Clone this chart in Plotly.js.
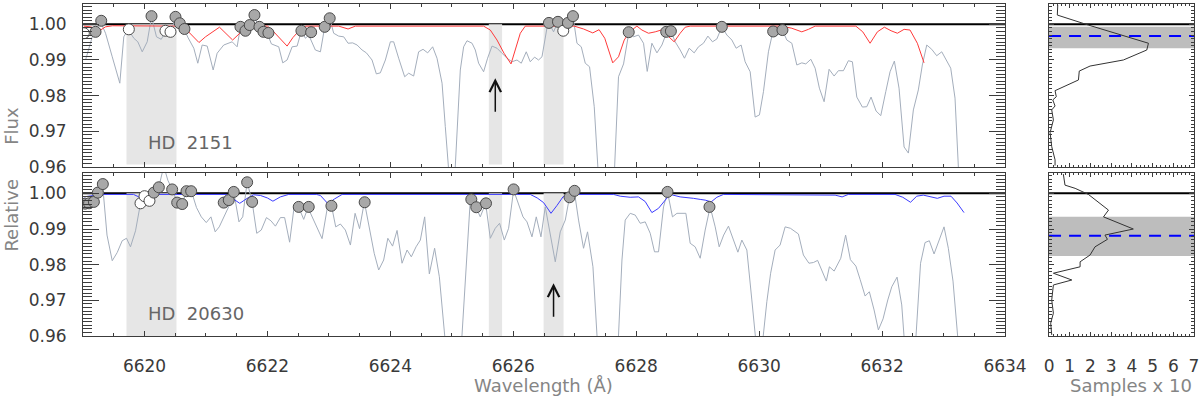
<!DOCTYPE html>
<html>
<head>
<meta charset="utf-8">
<script src="https://cdn.plot.ly/plotly-3.0.1.min.js"></script>
<style>
  html, body { margin: 0; padding: 0; background: #ffffff; }
  #chart, #axes { position: absolute; left: 0; top: 0; width: 1200px; height: 397px; }
</style>
</head>
<body>
<div id="chart"></div>
<div id="axes"></div>
<script>
// ---- HD 2151 (upper panel) ----
const wlTop = [6619.041, 6619.150, 6619.285, 6619.366, 6619.475, 6619.598, 6619.663, 6619.735, 6619.826, 6619.891,
  6619.963, 6620.044, 6620.114, 6620.195, 6620.272, 6620.341, 6620.423, 6620.504, 6620.574, 6620.650,
  6620.704, 6620.802, 6620.867, 6620.938, 6621.020, 6621.117, 6621.182, 6621.289, 6621.426, 6621.507,
  6621.561, 6621.642, 6621.712, 6621.777, 6621.859, 6621.930, 6621.995, 6622.065, 6622.184, 6622.249,
  6622.320, 6622.402, 6622.483, 6622.553, 6622.618, 6622.672, 6622.780, 6622.862, 6622.932, 6623.013,
  6623.078, 6623.159, 6623.241, 6623.312, 6623.387, 6623.459, 6623.540, 6623.610, 6623.702, 6623.772,
  6623.837, 6623.919, 6624.000, 6624.054, 6624.135, 6624.233, 6624.298, 6624.379, 6624.460, 6624.532,
  6624.607, 6624.688, 6624.759, 6624.841, 6624.894, 6625.011, 6625.138, 6625.192, 6625.247, 6625.329,
  6625.382, 6625.436, 6625.517, 6625.582, 6625.654, 6625.735, 6625.816, 6625.898, 6625.979, 6626.060,
  6626.130, 6626.211, 6626.276, 6626.346, 6626.411, 6626.467, 6626.548, 6626.580, 6626.655, 6626.727,
  6626.808, 6626.889, 6626.971, 6627.036, 6627.106, 6627.171, 6627.241, 6627.317, 6627.447, 6627.594,
  6627.712, 6627.794, 6627.881, 6627.956, 6628.037, 6628.119, 6628.179, 6628.255, 6628.337, 6628.418,
  6628.499, 6628.564, 6628.634, 6628.715, 6628.785, 6628.862, 6628.943, 6629.013, 6629.094, 6629.166,
  6629.241, 6629.312, 6629.393, 6629.475, 6629.556, 6629.626, 6629.707, 6629.772, 6629.854, 6629.935,
  6630.005, 6630.070, 6630.151, 6630.223, 6630.304, 6630.379, 6630.450, 6630.532, 6630.613, 6630.694,
  6630.759, 6630.841, 6630.911, 6630.980, 6631.057, 6631.138, 6631.220, 6631.289, 6631.371, 6631.452,
  6631.517, 6631.589, 6631.680, 6631.751, 6631.821, 6631.902, 6631.979, 6632.060, 6632.130, 6632.200,
  6632.276, 6632.358, 6632.428, 6632.509, 6632.590, 6632.655, 6632.727, 6632.808, 6632.889, 6632.971,
  6633.041, 6633.117, 6633.187, 6633.267];
const fluxTop = [0.9900, 0.9965, 1.0007, 0.9975, 0.9909, 0.9835, 0.9965, 0.9986, 0.9961, 0.9951,
  0.9923, 0.9951, 1.0021, 0.9965, 0.9958, 0.9979, 0.9976, 1.0020, 1.0003, 0.9986,
  0.9964, 0.9933, 0.9891, 0.9942, 0.9939, 0.9872, 0.9919, 0.9942, 0.9951, 0.9937,
  0.9993, 0.9979, 0.9998, 1.0026, 0.9993, 0.9979, 0.9975, 0.9945, 0.9937, 0.9892,
  0.9900, 0.9937, 0.9939, 0.9982, 0.9961, 0.9970, 0.9928, 0.9923, 0.9993, 1.0017,
  0.9975, 0.9967, 0.9965, 0.9947, 0.9948, 0.9942, 0.9928, 0.9920, 0.9900, 0.9861,
  0.9864, 0.9900, 0.9951, 0.9951, 0.9905, 0.9853, 0.9863, 0.9855, 0.9923, 0.9930,
  0.9920, 0.9937, 0.9905, 0.9835, 0.9713, 0.9452, 0.9872, 0.9937, 0.9954, 0.9947,
  0.9928, 0.9891, 0.9867, 0.9905, 0.9939, 0.9933, 0.9919, 0.9905, 0.9895, 0.9900,
  0.9891, 0.9923, 0.9895, 0.9908, 0.9900, 0.9909, 0.9990, 1.0004, 0.9979, 1.0007,
  0.9982, 1.0004, 1.0023, 0.9947, 0.9937, 0.9891, 0.9881, 0.9769, 0.9396, 0.9382,
  0.9853, 0.9889, 0.9978, 0.9965, 0.9970, 0.9947, 0.9868, 0.9947, 0.9920, 0.9942,
  0.9979, 0.9981, 0.9951, 0.9928, 0.9905, 0.9933, 0.9920, 0.9937, 0.9947, 0.9967,
  0.9951, 0.9959, 0.9993, 0.9970, 0.9956, 0.9933, 0.9942, 0.9895, 0.9867, 0.9740,
  0.9746, 0.9811, 0.9923, 0.9979, 0.9970, 0.9984, 0.9956, 0.9947, 0.9886, 0.9892,
  0.9889, 0.9902, 0.9877, 0.9821, 0.9783, 0.9874, 0.9855, 0.9870, 0.9870, 0.9898,
  0.9895, 0.9796, 0.9768, 0.9769, 0.9796, 0.9757, 0.9744, 0.9811, 0.9867, 0.9897,
  0.9821, 0.9656, 0.9639, 0.9760, 0.9816, 0.9886, 0.9942, 0.9930, 0.9912, 0.9923,
  0.9900, 0.9877, 0.9793, 0.9508];

const modelWlTop = [6619.013, 6619.122, 6619.285, 6619.366, 6619.480, 6620.532, 6620.694, 6620.886, 6620.992, 6621.073,
  6621.220, 6621.434, 6621.545, 6621.667, 6621.772, 6622.000, 6622.076, 6622.200, 6622.320, 6622.415,
  6622.520, 6622.626, 6623.159, 6623.312, 6623.431, 6625.517, 6625.626, 6625.735, 6625.849, 6625.963,
  6626.046, 6626.114, 6626.195, 6626.992, 6627.143, 6627.293, 6627.396, 6627.488, 6627.550, 6627.618,
  6627.712, 6627.805, 6627.894, 6627.956, 6628.011, 6628.093, 6628.200, 6628.309, 6628.407, 6628.499,
  6628.618, 6628.715, 6628.797, 6628.878, 6630.369, 6630.532, 6630.694, 6630.802, 6630.911, 6631.573,
  6631.686, 6631.805, 6631.924, 6632.037, 6632.146, 6632.249, 6632.358, 6632.455, 6632.574, 6632.683];
const modelTop = [0.9995, 0.9993, 0.9984, 0.9993, 0.9996, 0.9995, 0.9983, 0.9949, 0.9965, 0.9975,
  0.9992, 0.9956, 0.9975, 0.9994, 0.9996, 0.9995, 0.9984, 0.9960, 0.9939, 0.9963,
  0.9983, 0.9995, 0.9995, 0.9987, 0.9995, 0.9995, 0.9984, 0.9956, 0.9919, 0.9889,
  0.9934, 0.9975, 0.9995, 0.9995, 0.9987, 0.9976, 0.9985, 0.9961, 0.9928, 0.9892,
  0.9909, 0.9956, 0.9979, 0.9989, 0.9995, 0.9984, 0.9975, 0.9979, 0.9984, 0.9970,
  0.9951, 0.9975, 0.9992, 0.9995, 0.9995, 0.9989, 0.9979, 0.9986, 0.9995, 0.9995,
  0.9979, 0.9947, 0.9979, 0.9992, 0.9982, 0.9975, 0.9986, 0.9984, 0.9947, 0.9892];

const contWlTop = [6619.013, 6619.203, 6619.296, 6619.745, 6620.114, 6620.341, 6620.423, 6620.504, 6620.574, 6620.650,
  6621.561, 6621.642, 6621.712, 6621.789, 6621.870, 6621.935, 6622.016, 6622.553, 6622.711, 6622.932,
  6623.013, 6626.580, 6626.727, 6626.813, 6626.889, 6626.971, 6627.878, 6628.488, 6628.564, 6629.393,
  6630.228, 6630.379];
const contTop = [0.9975, 0.9979, 1.0010, 0.9986, 1.0023, 0.9982, 0.9979, 1.0021, 1.0003, 0.9987,
  0.9993, 0.9982, 0.9998, 1.0026, 0.9993, 0.9979, 0.9976, 0.9982, 0.9978, 0.9993,
  1.0017, 1.0004, 1.0007, 0.9982, 1.0004, 1.0023, 0.9978, 0.9979, 0.9981, 0.9993,
  0.9980, 0.9984];
const rejectedTop = [1, 0, 0, 1, 0, 1, 1, 0, 0, 0,
  0, 0, 0, 0, 0, 0, 0, 0, 0, 0,
  0, 0, 0, 1, 0, 0, 0, 0, 0, 0,
  0, 0];

// ---- HD 20630 (lower panel) ----
const wlBot = [6619.016, 6619.176, 6619.257, 6619.317, 6619.390, 6619.475, 6619.556, 6619.637, 6619.707, 6619.772,
  6619.854, 6619.935, 6620.016, 6620.081, 6620.151, 6620.233, 6620.314, 6620.379, 6620.450, 6620.532,
  6620.613, 6620.683, 6620.761, 6620.846, 6620.924, 6621.005, 6621.081, 6621.150, 6621.216, 6621.285,
  6621.371, 6621.452, 6621.537, 6621.598, 6621.670, 6621.751, 6621.826, 6621.899, 6621.984, 6622.057,
  6622.130, 6622.211, 6622.280, 6622.361, 6622.434, 6622.504, 6622.590, 6622.659, 6622.732, 6622.813,
  6622.889, 6622.971, 6623.041, 6623.111, 6623.187, 6623.268, 6623.350, 6623.426, 6623.499, 6623.577,
  6623.659, 6623.737, 6623.810, 6623.891, 6623.959, 6624.036, 6624.109, 6624.190, 6624.272, 6624.341,
  6624.418, 6624.488, 6624.558, 6624.634, 6624.720, 6624.797, 6625.052, 6625.301, 6625.390, 6625.463,
  6625.550, 6625.626, 6625.707, 6625.777, 6625.854, 6625.924, 6626.005, 6626.086, 6626.158, 6626.223,
  6626.304, 6626.374, 6626.450, 6626.520, 6626.602, 6626.683, 6626.764, 6626.846, 6626.915, 6626.992,
  6627.062, 6627.143, 6627.208, 6627.296, 6627.431, 6627.642, 6627.768, 6627.821, 6627.902, 6627.984,
  6628.065, 6628.146, 6628.228, 6628.298, 6628.363, 6628.444, 6628.509, 6628.590, 6628.662, 6628.740,
  6628.808, 6628.878, 6628.959, 6629.041, 6629.122, 6629.203, 6629.285, 6629.350, 6629.423, 6629.501,
  6629.582, 6629.654, 6629.719, 6629.800, 6629.881, 6630.000, 6630.125, 6630.187, 6630.260, 6630.341,
  6630.423, 6630.509, 6630.639, 6630.720, 6630.810, 6630.883, 6630.951, 6631.033, 6631.093, 6631.143,
  6631.220, 6631.328, 6631.407, 6631.485, 6631.574, 6631.642, 6631.724, 6631.793, 6631.870, 6631.940,
  6632.016, 6632.093, 6632.158, 6632.244, 6632.320, 6632.462, 6632.626, 6632.699, 6632.769, 6632.846,
  6632.927, 6633.008, 6633.078, 6633.154, 6633.276];
const fluxBot = [0.9972, 0.9981, 1.0004, 1.0027, 0.9883, 0.9811, 0.9834, 0.9867, 0.9874, 0.9850,
  0.9895, 0.9972, 0.9992, 0.9980, 1.0003, 1.0018, 1.0076, 1.0037, 1.0011, 0.9975,
  0.9970, 1.0006, 1.0007, 0.9960, 0.9934, 0.9918, 0.9934, 0.9892, 0.9906, 0.9930,
  0.9963, 1.0004, 0.9920, 0.9934, 1.0032, 0.9976, 0.9888, 0.9897, 0.9932, 0.9923,
  0.9908, 0.9932, 0.9932, 0.9863, 0.9962, 0.9963, 0.9927, 0.9960, 0.9931, 0.9900,
  0.9873, 0.9956, 0.9966, 0.9906, 0.9914, 0.9897, 0.9855, 0.9944, 0.9901, 0.9976,
  0.9900, 0.9832, 0.9785, 0.9813, 0.9874, 0.9852, 0.9896, 0.9804, 0.9841, 0.9822,
  0.9850, 0.9869, 0.9934, 0.9774, 0.9846, 0.9766, 0.9283, 0.9983, 0.9962, 0.9934,
  0.9972, 0.9874, 0.9902, 0.9916, 0.9869, 0.9902, 1.0009, 0.9972, 0.9934, 0.9920,
  0.9878, 0.9934, 0.9878, 0.9962, 0.9888, 0.9808, 0.9892, 0.9925, 0.9990, 1.0007,
  0.9925, 0.9846, 0.9892, 0.9794, 0.9399, 0.9340, 0.9813, 0.9925, 0.9944, 0.9939,
  0.9916, 0.9920, 0.9888, 0.9836, 0.9836, 0.9962, 1.0004, 0.9934, 0.9944, 0.9943,
  0.9944, 0.9860, 0.9850, 0.9818, 0.9897, 0.9962, 0.9906, 0.9850, 0.9883, 0.9908,
  0.9869, 0.9835, 0.9869, 0.9841, 0.9701, 0.9491, 0.9696, 0.9776, 0.9841, 0.9855,
  0.9906, 0.9902, 0.9886, 0.9827, 0.9804, 0.9806, 0.9812, 0.9777, 0.9754, 0.9794,
  0.9782, 0.9818, 0.9883, 0.9814, 0.9796, 0.9759, 0.9712, 0.9724, 0.9673, 0.9617,
  0.9648, 0.9701, 0.9738, 0.9765, 0.9687, 0.9351, 0.9804, 0.9862, 0.9867, 0.9830,
  0.9869, 0.9906, 0.9846, 0.9754, 0.9505];

const modelWlBot = [6619.013, 6619.176, 6619.285, 6619.821, 6619.907, 6620.016, 6621.345, 6621.455, 6621.550, 6621.670,
  6621.777, 6621.886, 6622.000, 6622.089, 6622.211, 6622.346, 6622.797, 6622.862, 6622.984, 6623.089,
  6623.215, 6626.276, 6626.390, 6626.493, 6626.613, 6626.711, 6626.808, 6626.899, 6627.631, 6627.740,
  6627.902, 6628.037, 6628.146, 6628.255, 6628.363, 6628.472, 6628.553, 6628.715, 6628.824, 6628.932,
  6629.041, 6629.122, 6629.220, 6629.312, 6629.420, 6631.122, 6631.236, 6631.350, 6631.451, 6632.211,
  6632.337, 6632.463, 6632.564, 6632.671, 6632.780, 6632.899, 6633.008, 6633.122, 6633.220, 6633.333];
const modelBot = [0.9990, 0.9995, 0.9997, 0.9997, 0.9990, 0.9997, 0.9997, 0.9983, 0.9972, 0.9986,
  0.9996, 0.9994, 0.9987, 0.9978, 0.9990, 0.9997, 0.9997, 0.9994, 0.9971, 0.9984,
  0.9997, 0.9997, 0.9987, 0.9974, 0.9944, 0.9966, 0.9990, 0.9997, 0.9997, 0.9992,
  0.9989, 0.9990, 0.9977, 0.9946, 0.9958, 0.9981, 0.9997, 0.9990, 0.9989, 0.9986,
  0.9983, 0.9981, 0.9976, 0.9989, 0.9997, 0.9997, 0.9995, 0.9990, 0.9997, 0.9997,
  0.9989, 0.9975, 0.9992, 0.9995, 0.9990, 0.9986, 0.9992, 0.9992, 0.9973, 0.9946];

const contWlBot = [6619.033, 6619.098, 6619.176, 6619.241, 6619.322, 6619.935, 6620.000, 6620.081, 6620.151, 6620.233,
  6620.450, 6620.532, 6620.613, 6620.683, 6620.759, 6621.289, 6621.371, 6621.452, 6621.670, 6621.751,
  6622.509, 6622.672, 6623.041, 6623.582, 6625.317, 6625.398, 6625.556, 6626.005, 6626.915, 6626.997,
  6628.509, 6629.192];
const contBot = [0.9971, 0.9972, 0.9976, 1.0002, 1.0026, 0.9972, 0.9992, 0.9979, 1.0002, 1.0017,
  1.0011, 0.9974, 0.9970, 1.0006, 1.0006, 0.9974, 0.9981, 1.0004, 1.0031, 0.9976,
  0.9962, 0.9962, 0.9965, 0.9975, 0.9983, 0.9961, 0.9972, 1.0011, 0.9989, 1.0007,
  1.0004, 0.9962];
const rejectedBot = [0, 0, 0, 0, 0, 1, 1, 1, 0, 0,
  0, 0, 0, 0, 0, 0, 0, 0, 0, 0,
  0, 0, 0, 0, 0, 0, 0, 0, 0, 0,
  0, 0];

// ---- continuum-level samples (side panels) ----
const histFluxTop = [1.0054, 1.0026, 0.9998, 0.9947, 0.9928, 0.9900, 0.9883, 0.9869, 0.9844, 0.9814,
  0.9797, 0.9788, 0.9771, 0.9760, 0.9732, 0.9696, 0.9657, 0.9620, 0.9604];
const histCountTop = [0.42, 0.40, 1.90, 4.80, 4.72, 3.59, 1.98, 1.46, 1.42, 0.29,
  0.35, 0.18, 0.29, 0.13, 0.21, 0.05, 0.13, 0.29, 0.29];
const histFluxBot = [1.0054, 1.0023, 1.0014, 0.9997, 0.9953, 0.9934, 0.9900, 0.9883, 0.9871, 0.9850,
  0.9827, 0.9808, 0.9794, 0.9776, 0.9757, 0.9743, 0.9701, 0.9664, 0.9636, 0.9603];
const histCountBot = [0.69, 0.77, 1.26, 1.90, 2.87, 2.63, 4.07, 2.70, 2.82, 2.22,
  1.98, 1.50, 1.50, 0.21, 1.10, 0.21, 0.13, 0.21, 0.08, 0.13];

const bandTop = [0.9933, 0.9993];
const bestTop = 0.9967;
const bandBot = [0.9824, 0.9934];
const bestBot = 0.9881;

// excluded wavelength windows and the marked lines
const windows = [[6619.707, 6620.520], [6625.602, 6625.818], [6626.493, 6626.818]];
const arrowWl = [6625.707, 6626.655];
const arrowFlux = [[0.9751, 0.9849], [0.9650, 0.9748]];
const starNames = ["HD\u00a0\u00a02151", "HD\u00a0\u00a020630"];

const xRange = [6619, 6634];
const yRange = [0.96, 1.0057];
const sampleRange = [0, 7];

const FONT = "DejaVu Sans";
const SPEC_COLOR = "#a4aebc";
const FRAME = "#3c3c3c";
const TOP_DOMAIN = [0.5794, 0.9899];
const BOT_DOMAIN = [0.1537, 0.5642];

function mainX(anchor, labels) {
  return {
    domain: [0.0692, 0.8375], range: xRange, anchor: anchor,
    showline: true, linecolor: FRAME, linewidth: 1, mirror: "ticks",
    ticks: "inside", ticklen: 5, tickcolor: FRAME, tick0: 6620, dtick: 2,
    minor: { ticks: "inside", dtick: 0.5, ticklen: 3, tickcolor: FRAME },
    showgrid: false, zeroline: false, showticklabels: labels,
    tickformat: "d", ticklabelstandoff: 15,
    tickfont: { family: FONT, size: 17, color: "#3a3a3a" }
  };
}

function mainY(domainY, anchor) {
  return {
    domain: domainY, range: yRange, anchor: anchor,
    showline: true, linecolor: FRAME, linewidth: 1, mirror: "ticks",
    ticks: "inside", ticklen: 16, tickcolor: FRAME, tick0: 0.96, dtick: 0.01,
    minor: { ticks: "inside", dtick: 0.001, ticklen: 9, tickcolor: FRAME },
    showgrid: false, zeroline: false, tickformat: ".2f", ticklabelstandoff: 12,
    tickfont: { family: FONT, size: 17, color: "#3a3a3a" }
  };
}

function sideX(anchor, labels) {
  return {
    domain: [0.8742, 0.995], range: sampleRange, anchor: anchor,
    showline: true, linecolor: FRAME, linewidth: 1, mirror: "ticks",
    ticks: "inside", ticklen: 4, tickcolor: FRAME, tick0: 0, dtick: 1,
    minor: { ticks: "inside", dtick: 0.2, ticklen: 2, tickcolor: FRAME },
    showgrid: false, zeroline: false, showticklabels: labels, ticklabelstandoff: 15,
    tickfont: { family: FONT, size: 17, color: "#3a3a3a" }
  };
}

function sideY(domainY, anchor) {
  return {
    domain: domainY, range: yRange, anchor: anchor,
    showline: true, linecolor: FRAME, linewidth: 1, mirror: "ticks",
    ticks: "inside", ticklen: 5, tickcolor: FRAME, tick0: 0.96, dtick: 0.01,
    minor: { ticks: "inside", dtick: 0.001, ticklen: 3, tickcolor: FRAME },
    showgrid: false, zeroline: false, showticklabels: false
  };
}

const axes = {
  xaxis: mainX("y", false),
  yaxis: mainY(TOP_DOMAIN, "x"),
  xaxis2: mainX("y2", true),
  yaxis2: mainY(BOT_DOMAIN, "x2"),
  xaxis3: sideX("y3", false),
  yaxis3: sideY(TOP_DOMAIN, "x3"),
  xaxis4: sideX("y4", true),
  yaxis4: sideY(BOT_DOMAIN, "x4")
};

// same scales without frame or ticks, for the layer that holds the data
function bare(ax) {
  return Object.assign({}, ax, { showline: false, ticks: "", minor: { ticks: "" }, showticklabels: false });
}

function lineTrace(x, y, xa, ya, color) {
  return { x: x, y: y, xaxis: xa, yaxis: ya, type: "scatter", mode: "lines",
    line: { color: color, width: 1 }, hoverinfo: "skip" };
}

function continuum(x, y, rejected, xa, ya) {
  const fill = rejected.map(function (r) { return r ? "#ffffff" : "#a8a8a8"; });
  return { x: x, y: y, xaxis: xa, yaxis: ya, type: "scatter", mode: "markers",
    marker: { size: 11, color: fill, line: { color: "#4a4a4a", width: 1 } }, hoverinfo: "skip" };
}

const data = [
  lineTrace(wlTop, fluxTop, "x", "y", SPEC_COLOR),
  lineTrace(modelWlTop, modelTop, "x", "y", "#ff3a3a"),
  continuum(contWlTop, contTop, rejectedTop, "x", "y"),
  lineTrace(wlBot, fluxBot, "x2", "y2", SPEC_COLOR),
  lineTrace(modelWlBot, modelBot, "x2", "y2", "#3c3cff"),
  continuum(contWlBot, contBot, rejectedBot, "x2", "y2"),
  lineTrace(histCountTop, histFluxTop, "x3", "y3", "#333333"),
  lineTrace(histCountBot, histFluxBot, "x4", "y4", "#333333")
];

function windowShape(win, xa, ya, y0) {
  return { type: "rect", xref: xa, yref: ya, x0: win[0], x1: win[1], y0: y0, y1: 1.0,
    fillcolor: "#e6e6e6", line: { width: 0 }, layer: "below" };
}

function unityLine(xa, ya) {
  return { type: "line", xref: xa + " domain", yref: ya, x0: 0, x1: 1, y0: 1, y1: 1,
    line: { color: "#000000", width: 2 }, layer: "below" };
}

function band(xa, ya, lims) {
  return { type: "rect", xref: xa + " domain", yref: ya, x0: 0, x1: 1, y0: lims[0], y1: lims[1],
    fillcolor: "#bdbdbd", line: { width: 0 }, layer: "below" };
}

function bestLine(xa, ya, value) {
  return { type: "line", xref: xa + " domain", yref: ya, x0: 0, x1: 1, y0: value, y1: value,
    line: { color: "#0000ff", width: 2, dash: "12px,8px" }, layer: "below" };
}

const shapes = [
  windowShape(windows[0], "x", "y", 0.9607),
  unityLine("x", "y"),
  windowShape(windows[1], "x", "y", 0.9607),
  windowShape(windows[2], "x", "y", 0.9607),
  windowShape(windows[0], "x2", "y2", 0.96),
  windowShape(windows[1], "x2", "y2", 0.96),
  unityLine("x2", "y2"),
  windowShape(windows[2], "x2", "y2", 0.96),
  band("x3", "y3", bandTop),
  band("x4", "y4", bandBot),
  unityLine("x3", "y3"),
  unityLine("x4", "y4"),
  bestLine("x3", "y3", bestTop),
  bestLine("x4", "y4", bestBot)
];

function lineArrow(wl, flux, xa, ya) {
  return { x: wl, y: flux[1], ax: wl, ay: flux[0], xref: xa, yref: ya, axref: xa, ayref: ya,
    showarrow: true, arrowhead: 5, arrowsize: 1.5, arrowwidth: 1.5, arrowcolor: "#111111", text: "" };
}

function starLabel(name, xa, ya, flux) {
  return { x: windows[0][0] + 0.31, y: flux, xref: xa, yref: ya, text: name, showarrow: false,
    xanchor: "left", yanchor: "middle", font: { family: FONT, size: 18, color: "#666666" } };
}

function paperText(text, x, y, angle) {
  return { x: x, y: y, xref: "paper", yref: "paper", text: text, showarrow: false,
    xanchor: "center", yanchor: "middle", textangle: angle,
    font: { family: FONT, size: 18, color: "#858585" } };
}

const annotations = [
  lineArrow(arrowWl[0], arrowFlux[0], "x", "y"),
  lineArrow(arrowWl[1], arrowFlux[1], "x2", "y2"),
  starLabel(starNames[0], "x", "y", 0.9668),
  starLabel(starNames[1], "x2", "y2", 0.9664),
  paperText("Flux", 0.0095, 0.684, -90),
  paperText("Relative", 0.0095, 0.458, -90),
  paperText("Wavelength (Å)", 0.4525, 0.030, 0),
  paperText("Samples x 10", 0.9425, 0.030, 0)
];

const dataLayout = {
  width: 1200, height: 397, autosize: false,
  margin: { l: 0, r: 0, t: 0, b: 0 },
  paper_bgcolor: "#ffffff", plot_bgcolor: "#ffffff",
  showlegend: false,
  shapes: shapes,
  annotations: annotations
};

// frames, ticks and tick labels are drawn in a transparent layer on top
const axisLayout = {
  width: 1200, height: 397, autosize: false,
  margin: { l: 0, r: 0, t: 0, b: 0 },
  paper_bgcolor: "rgba(0,0,0,0)", plot_bgcolor: "rgba(0,0,0,0)",
  showlegend: false
};

Object.keys(axes).forEach(function (key) {
  dataLayout[key] = bare(axes[key]);
  axisLayout[key] = axes[key];
});

const axisData = [["x", "y"], ["x2", "y2"], ["x3", "y3"], ["x4", "y4"]].map(function (pair) {
  return { x: [], y: [], xaxis: pair[0], yaxis: pair[1], type: "scatter", mode: "lines", hoverinfo: "skip" };
});

Plotly.newPlot("chart", data, dataLayout, { staticPlot: true });
Plotly.newPlot("axes", axisData, axisLayout, { staticPlot: true });
</script>
</body>
</html>
